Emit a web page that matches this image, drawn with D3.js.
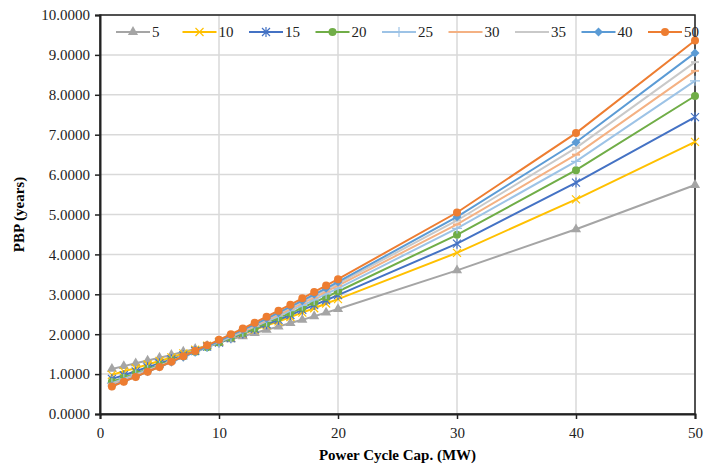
<!DOCTYPE html>
<html>
<head>
<meta charset="utf-8">
<script src="https://cdn.jsdelivr.net/npm/d3@7"></script>
<style>
  body { margin: 0; background: #fff; }
  text { font-family: "Liberation Serif", "Times New Roman", serif; }
</style>
</head>
<body>
<div class="mainVis"></div>
<script>
var capacities = [1, 2, 3, 4, 5, 6, 7, 8, 9, 10, 11, 12, 13, 14, 15, 16, 17, 18, 19, 20, 30, 40, 50]

var seriesNames = ["5", "10", "15", "20", "25", "30", "35", "40", "50"]

var pbp5  = [1.13, 1.20, 1.27, 1.34, 1.41, 1.48, 1.56, 1.63, 1.71, 1.79, 1.87, 1.95, 2.03, 2.11, 2.19, 2.28, 2.36, 2.45, 2.54, 2.63, 3.60, 4.63, 5.74]
var pbp10 = [0.98, 1.07, 1.15, 1.24, 1.33, 1.42, 1.52, 1.61, 1.71, 1.81, 1.91, 2.01, 2.11, 2.22, 2.32, 2.43, 2.54, 2.65, 2.77, 2.88, 4.04, 5.38, 6.82]
var pbp15 = [0.88, 0.97, 1.07, 1.17, 1.27, 1.37, 1.47, 1.58, 1.69, 1.79, 1.90, 2.02, 2.13, 2.25, 2.36, 2.48, 2.61, 2.73, 2.85, 2.98, 4.27, 5.80, 7.44]
var pbp20 = [0.81, 0.91, 1.01, 1.12, 1.23, 1.34, 1.45, 1.56, 1.67, 1.79, 1.91, 2.03, 2.15, 2.28, 2.41, 2.53, 2.66, 2.80, 2.93, 3.07, 4.49, 6.11, 7.97]
var pbp25 = [0.77, 0.88, 0.99, 1.10, 1.21, 1.32, 1.44, 1.56, 1.68, 1.80, 1.93, 2.06, 2.19, 2.32, 2.45, 2.59, 2.72, 2.86, 3.01, 3.15, 4.65, 6.33, 8.35]
var pbp30 = [0.74, 0.85, 0.96, 1.08, 1.20, 1.32, 1.44, 1.56, 1.69, 1.82, 1.95, 2.08, 2.21, 2.35, 2.49, 2.63, 2.78, 2.92, 3.07, 3.22, 4.75, 6.50, 8.60]
var pbp35 = [0.72, 0.83, 0.95, 1.07, 1.19, 1.31, 1.44, 1.56, 1.69, 1.83, 1.96, 2.10, 2.23, 2.38, 2.52, 2.67, 2.81, 2.96, 3.12, 3.27, 4.85, 6.67, 8.82]
var pbp40 = [0.70, 0.82, 0.93, 1.06, 1.18, 1.30, 1.43, 1.56, 1.69, 1.83, 1.97, 2.11, 2.25, 2.39, 2.54, 2.69, 2.84, 3.00, 3.15, 3.31, 4.94, 6.81, 9.05]
var pbp50 = [0.69, 0.81, 0.93, 1.06, 1.18, 1.31, 1.45, 1.58, 1.72, 1.86, 2.00, 2.14, 2.29, 2.44, 2.59, 2.74, 2.90, 3.06, 3.22, 3.38, 5.05, 7.04, 9.36]

var xTicks = [0, 10, 20, 30, 40, 50]
var yTicks = [0, 1, 2, 3, 4, 5, 6, 7, 8, 9, 10]

var allValues = [pbp5, pbp10, pbp15, pbp20, pbp25, pbp30, pbp35, pbp40, pbp50]

colorMap = {
    "5": "#A5A5A5",
    "10": "#FFC000",
    "15": "#4472C4",
    "20": "#70AD47",
    "25": "#9DC3E6",
    "30": "#F4B183",
    "35": "#C9C9C9",
    "40": "#5B9BD5",
    "50": "#ED7D31"
}

markerMap = {
    "5": "triangle",
    "10": "x",
    "15": "star",
    "20": "circle",
    "25": "plus",
    "30": "dash",
    "35": "dash",
    "40": "diamond",
    "50": "circle"
}

var series = seriesNames.map(function(name, i) {
    return {
        name: name,
        points: capacities.map(function(c, j) { return { x: c, y: allValues[i][j] } })
    }
})

var width = 704, height = 469
var margin = { top: 15, right: 9, bottom: 55, left: 100 }
var plotW = width - margin.left - margin.right
var plotH = height - margin.top - margin.bottom

var svg = d3.select(".mainVis")
    .append("svg")
    .attr("width", width)
    .attr("height", height)

svg.append("rect")
    .attr("width", width)
    .attr("height", height)
    .attr("fill", "white")

var x = d3.scaleLinear().domain([0, 50]).range([margin.left, margin.left + plotW])
var y = d3.scaleLinear().domain([0, 10]).range([margin.top + plotH, margin.top])

// grid
svg.append("g").selectAll("line")
    .data(xTicks.slice(1))
    .enter().append("line")
    .attr("x1", function(d) { return x(d) })
    .attr("x2", function(d) { return x(d) })
    .attr("y1", y(0)).attr("y2", y(10))
    .attr("stroke", "#D9D9D9").attr("stroke-width", 1.5)

svg.append("g").selectAll("line")
    .data(yTicks.slice(1))
    .enter().append("line")
    .attr("y1", function(d) { return y(d) })
    .attr("y2", function(d) { return y(d) })
    .attr("x1", x(0)).attr("x2", x(50))
    .attr("stroke", "#D9D9D9").attr("stroke-width", 1.5)

// plot border
svg.append("rect")
    .attr("x", x(0)).attr("y", y(10))
    .attr("width", x(50) - x(0)).attr("height", y(0) - y(10))
    .attr("fill", "none")
    .attr("stroke", "#222").attr("stroke-width", 1.5)

// axes
var xAxis = svg.append("g")
    .attr("transform", "translate(0," + y(0) + ")")
    .call(d3.axisBottom(x).tickValues(xTicks).tickSize(5).tickFormat(d3.format("d")))
var yAxis = svg.append("g")
    .attr("transform", "translate(" + x(0) + ",0)")
    .call(d3.axisLeft(y).tickValues(yTicks).tickSize(5).tickFormat(d3.format(".4f")))

;[xAxis, yAxis].forEach(function(ax) {
    ax.select(".domain").attr("stroke", "#222").attr("stroke-width", 2)
    ax.selectAll(".tick line").attr("stroke", "#222").attr("stroke-width", 1.5)
    ax.selectAll("text")
        .attr("fill", "#222")
        .style("font-size", "15px")
        .style("font-family", "'Liberation Serif', serif")
})
xAxis.selectAll("text").attr("dy", "1.05em")
yAxis.selectAll("text").attr("x", -10)

svg.append("text")
    .attr("x", x(25)).attr("y", 460)
    .attr("text-anchor", "middle")
    .style("font-size", "15px").style("font-weight", "bold")
    .text("Power Cycle Cap. (MW)")

svg.append("text")
    .attr("transform", "translate(24," + y(5) + ") rotate(-90)")
    .attr("text-anchor", "middle")
    .style("font-size", "15px").style("font-weight", "bold")
    .text("PBP (years)")

function drawMarker(g, type, color) {
    if (type == "circle") {
        g.append("circle").attr("r", 4).attr("fill", color)
    } else if (type == "triangle") {
        g.append("path").attr("d", d3.symbol().type(d3.symbolTriangle).size(45)).attr("fill", color)
    } else if (type == "diamond") {
        g.append("path").attr("d", d3.symbol().type(d3.symbolSquare).size(40))
            .attr("transform", "rotate(45)").attr("fill", color)
    } else if (type == "x") {
        g.append("path").attr("d", "M-4,-4L4,4M-4,4L4,-4").attr("stroke", color).attr("stroke-width", 1.2)
    } else if (type == "star") {
        g.append("path").attr("d", "M-4,-4L4,4M-4,4L4,-4M0,-5L0,5").attr("stroke", color).attr("stroke-width", 1.2)
    } else if (type == "plus") {
        g.append("path").attr("d", "M-5,0L5,0M0,-5L0,5").attr("stroke", color).attr("stroke-width", 1.2)
    } else if (type == "dash") {
        g.append("path").attr("d", "M-4,0L4,0").attr("stroke", color).attr("stroke-width", 2)
    }
}

var line = d3.line()
    .x(function(d) { return x(d.x) })
    .y(function(d) { return y(d.y) })

var seriesG = svg.selectAll(".series")
    .data(series)
    .enter().append("g")
    .attr("class", "series")

seriesG.append("path")
    .attr("d", function(d) { return line(d.points) })
    .attr("fill", "none")
    .attr("stroke", function(d) { return colorMap[d.name] })
    .attr("stroke-width", 2)

seriesG.each(function(s) {
    var g = d3.select(this)
    s.points.forEach(function(p) {
        var m = g.append("g").attr("transform", "translate(" + x(p.x) + "," + y(p.y) + ")")
        drawMarker(m, markerMap[s.name], colorMap[s.name])
    })
})

// legend
var legend = svg.selectAll(".legendItem")
    .data(seriesNames)
    .enter().append("g")
    .attr("class", "legendItem")
    .attr("transform", function(d, i) { return "translate(" + (116 + i * 66.5) + ",32)" })

legend.append("line")
    .attr("x1", 0).attr("x2", 34)
    .attr("stroke", function(d) { return colorMap[d] })
    .attr("stroke-width", 2)

legend.each(function(d) {
    var m = d3.select(this).append("g").attr("transform", "translate(17,0)")
    drawMarker(m, markerMap[d], colorMap[d])
})

legend.append("text")
    .attr("x", 36).attr("y", 5)
    .style("font-size", "15px")
    .attr("fill", "#222")
    .text(function(d) { return d })
</script>
</body>
</html>
